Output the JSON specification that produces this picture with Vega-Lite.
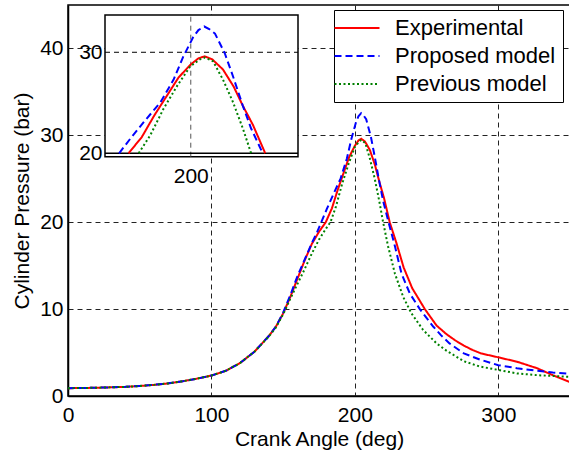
{
  "$schema": "https://vega.github.io/schema/vega-lite/v6.json",
  "autosize": "none",
  "padding": {"left": 68, "top": 5, "right": 0, "bottom": 60},
  "width": 502,
  "height": 391,
  "config": {
    "font": "Liberation Sans",
    "view": {"stroke": "#000", "strokeWidth": 1.5},
    "axis": {
      "labelFont": "Liberation Sans",
      "labelFontSize": 21,
      "labelColor": "#000",
      "titleFont": "Liberation Sans",
      "titleFontSize": 21,
      "titleFontWeight": "normal",
      "titleColor": "#000",
      "domainColor": "#000",
      "domainWidth": 1.5,
      "ticks": false,
      "grid": true,
      "gridColor": "#222",
      "gridDash": [5, 4],
      "gridWidth": 1,
      "labelOverlap": false
    },
    "legend": {
      "labelFont": "Liberation Sans",
      "labelFontSize": 22,
      "labelColor": "#000",
      "labelLimit": 400
    }
  },
  "datasets": {
    "curves": [
      {"a": 0, "p": 0.9, "s": "Experimental"},
      {"a": 10, "p": 0.92, "s": "Experimental"},
      {"a": 20, "p": 0.95, "s": "Experimental"},
      {"a": 30, "p": 1.0, "s": "Experimental"},
      {"a": 40, "p": 1.05, "s": "Experimental"},
      {"a": 50, "p": 1.15, "s": "Experimental"},
      {"a": 60, "p": 1.28, "s": "Experimental"},
      {"a": 70, "p": 1.45, "s": "Experimental"},
      {"a": 80, "p": 1.7, "s": "Experimental"},
      {"a": 90, "p": 2.0, "s": "Experimental"},
      {"a": 100, "p": 2.35, "s": "Experimental"},
      {"a": 110, "p": 2.9, "s": "Experimental"},
      {"a": 120, "p": 3.8, "s": "Experimental"},
      {"a": 130, "p": 5.1, "s": "Experimental"},
      {"a": 140, "p": 6.9, "s": "Experimental"},
      {"a": 145, "p": 8.0, "s": "Experimental"},
      {"a": 150, "p": 9.5, "s": "Experimental"},
      {"a": 155, "p": 11.4, "s": "Experimental"},
      {"a": 160, "p": 13.5, "s": "Experimental"},
      {"a": 165, "p": 15.6, "s": "Experimental"},
      {"a": 170, "p": 17.5, "s": "Experimental"},
      {"a": 175, "p": 18.9, "s": "Experimental"},
      {"a": 179.7, "p": 20.0, "s": "Experimental"},
      {"a": 184, "p": 21.6, "s": "Experimental"},
      {"a": 188, "p": 23.7, "s": "Experimental"},
      {"a": 192, "p": 25.6, "s": "Experimental"},
      {"a": 196, "p": 27.5, "s": "Experimental"},
      {"a": 200, "p": 28.8, "s": "Experimental"},
      {"a": 202.5, "p": 29.4, "s": "Experimental"},
      {"a": 204.5, "p": 29.6, "s": "Experimental"},
      {"a": 207, "p": 29.3, "s": "Experimental"},
      {"a": 210.5, "p": 28.3, "s": "Experimental"},
      {"a": 214, "p": 26.6, "s": "Experimental"},
      {"a": 217, "p": 24.7, "s": "Experimental"},
      {"a": 220.3, "p": 22.8, "s": "Experimental"},
      {"a": 224.3, "p": 20.0, "s": "Experimental"},
      {"a": 229, "p": 17.6, "s": "Experimental"},
      {"a": 234, "p": 14.8, "s": "Experimental"},
      {"a": 240, "p": 12.4, "s": "Experimental"},
      {"a": 248.8, "p": 10.0, "s": "Experimental"},
      {"a": 257, "p": 8.1, "s": "Experimental"},
      {"a": 264, "p": 7.1, "s": "Experimental"},
      {"a": 270, "p": 6.4, "s": "Experimental"},
      {"a": 276, "p": 5.8, "s": "Experimental"},
      {"a": 282, "p": 5.3, "s": "Experimental"},
      {"a": 288, "p": 4.9, "s": "Experimental"},
      {"a": 300, "p": 4.45, "s": "Experimental"},
      {"a": 313, "p": 3.95, "s": "Experimental"},
      {"a": 327, "p": 3.2, "s": "Experimental"},
      {"a": 338, "p": 2.4, "s": "Experimental"},
      {"a": 350, "p": 1.6, "s": "Experimental"},

      {"a": 0, "p": 0.9, "s": "Proposed model"},
      {"a": 10, "p": 0.92, "s": "Proposed model"},
      {"a": 20, "p": 0.95, "s": "Proposed model"},
      {"a": 30, "p": 1.0, "s": "Proposed model"},
      {"a": 40, "p": 1.06, "s": "Proposed model"},
      {"a": 50, "p": 1.16, "s": "Proposed model"},
      {"a": 60, "p": 1.29, "s": "Proposed model"},
      {"a": 70, "p": 1.46, "s": "Proposed model"},
      {"a": 80, "p": 1.7, "s": "Proposed model"},
      {"a": 90, "p": 2.0, "s": "Proposed model"},
      {"a": 100, "p": 2.35, "s": "Proposed model"},
      {"a": 110, "p": 2.9, "s": "Proposed model"},
      {"a": 120, "p": 3.8, "s": "Proposed model"},
      {"a": 130, "p": 5.1, "s": "Proposed model"},
      {"a": 140, "p": 6.9, "s": "Proposed model"},
      {"a": 145, "p": 8.0, "s": "Proposed model"},
      {"a": 150, "p": 9.6, "s": "Proposed model"},
      {"a": 155, "p": 11.6, "s": "Proposed model"},
      {"a": 160, "p": 13.8, "s": "Proposed model"},
      {"a": 165, "p": 15.7, "s": "Proposed model"},
      {"a": 170, "p": 17.6, "s": "Proposed model"},
      {"a": 173.5, "p": 18.8, "s": "Proposed model"},
      {"a": 176.6, "p": 20.0, "s": "Proposed model"},
      {"a": 180.4, "p": 21.5, "s": "Proposed model"},
      {"a": 184.7, "p": 23.1, "s": "Proposed model"},
      {"a": 190.1, "p": 25.05, "s": "Proposed model"},
      {"a": 194.4, "p": 27.3, "s": "Proposed model"},
      {"a": 197.6, "p": 29.6, "s": "Proposed model"},
      {"a": 200.8, "p": 31.5, "s": "Proposed model"},
      {"a": 202.5, "p": 32.2, "s": "Proposed model"},
      {"a": 204.4, "p": 32.55, "s": "Proposed model"},
      {"a": 206, "p": 32.3, "s": "Proposed model"},
      {"a": 207.9, "p": 31.85, "s": "Proposed model"},
      {"a": 211.1, "p": 29.9, "s": "Proposed model"},
      {"a": 213.8, "p": 27.6, "s": "Proposed model"},
      {"a": 217, "p": 24.7, "s": "Proposed model"},
      {"a": 219.7, "p": 22.45, "s": "Proposed model"},
      {"a": 223.5, "p": 20.0, "s": "Proposed model"},
      {"a": 228, "p": 17.2, "s": "Proposed model"},
      {"a": 232.5, "p": 14.1, "s": "Proposed model"},
      {"a": 238.3, "p": 11.8, "s": "Proposed model"},
      {"a": 245.3, "p": 10.0, "s": "Proposed model"},
      {"a": 254.6, "p": 8.0, "s": "Proposed model"},
      {"a": 260, "p": 7.0, "s": "Proposed model"},
      {"a": 266, "p": 6.05, "s": "Proposed model"},
      {"a": 276, "p": 4.9, "s": "Proposed model"},
      {"a": 287, "p": 4.2, "s": "Proposed model"},
      {"a": 300, "p": 3.55, "s": "Proposed model"},
      {"a": 313, "p": 3.2, "s": "Proposed model"},
      {"a": 327, "p": 2.9, "s": "Proposed model"},
      {"a": 338, "p": 2.7, "s": "Proposed model"},
      {"a": 350, "p": 2.55, "s": "Proposed model"},

      {"a": 0, "p": 0.9, "s": "Previous model"},
      {"a": 10, "p": 0.92, "s": "Previous model"},
      {"a": 20, "p": 0.95, "s": "Previous model"},
      {"a": 30, "p": 1.0, "s": "Previous model"},
      {"a": 40, "p": 1.05, "s": "Previous model"},
      {"a": 50, "p": 1.15, "s": "Previous model"},
      {"a": 60, "p": 1.28, "s": "Previous model"},
      {"a": 70, "p": 1.45, "s": "Previous model"},
      {"a": 80, "p": 1.7, "s": "Previous model"},
      {"a": 90, "p": 2.0, "s": "Previous model"},
      {"a": 100, "p": 2.35, "s": "Previous model"},
      {"a": 110, "p": 2.9, "s": "Previous model"},
      {"a": 120, "p": 3.8, "s": "Previous model"},
      {"a": 130, "p": 5.1, "s": "Previous model"},
      {"a": 140, "p": 6.85, "s": "Previous model"},
      {"a": 145, "p": 7.9, "s": "Previous model"},
      {"a": 150, "p": 9.4, "s": "Previous model"},
      {"a": 155, "p": 11.2, "s": "Previous model"},
      {"a": 160, "p": 12.9, "s": "Previous model"},
      {"a": 165, "p": 14.6, "s": "Previous model"},
      {"a": 170, "p": 16.4, "s": "Previous model"},
      {"a": 175, "p": 18.0, "s": "Previous model"},
      {"a": 180, "p": 19.3, "s": "Previous model"},
      {"a": 183, "p": 20.0, "s": "Previous model"},
      {"a": 186.8, "p": 21.8, "s": "Previous model"},
      {"a": 191.1, "p": 24.4, "s": "Previous model"},
      {"a": 195.5, "p": 26.65, "s": "Previous model"},
      {"a": 199.8, "p": 28.6, "s": "Previous model"},
      {"a": 203, "p": 29.3, "s": "Previous model"},
      {"a": 204.6, "p": 29.48, "s": "Previous model"},
      {"a": 207.3, "p": 29.1, "s": "Previous model"},
      {"a": 210.5, "p": 27.3, "s": "Previous model"},
      {"a": 213.8, "p": 25.05, "s": "Previous model"},
      {"a": 217, "p": 22.45, "s": "Previous model"},
      {"a": 219.7, "p": 20.0, "s": "Previous model"},
      {"a": 223.2, "p": 17.2, "s": "Previous model"},
      {"a": 227.9, "p": 14.1, "s": "Previous model"},
      {"a": 233.7, "p": 11.4, "s": "Previous model"},
      {"a": 239.5, "p": 9.5, "s": "Previous model"},
      {"a": 247.6, "p": 7.6, "s": "Previous model"},
      {"a": 257, "p": 6.05, "s": "Previous model"},
      {"a": 264, "p": 5.2, "s": "Previous model"},
      {"a": 270, "p": 4.6, "s": "Previous model"},
      {"a": 276, "p": 4.0, "s": "Previous model"},
      {"a": 287, "p": 3.4, "s": "Previous model"},
      {"a": 300, "p": 3.0, "s": "Previous model"},
      {"a": 313, "p": 2.6, "s": "Previous model"},
      {"a": 327, "p": 2.4, "s": "Previous model"},
      {"a": 338, "p": 2.3, "s": "Previous model"},
      {"a": 350, "p": 2.2, "s": "Previous model"}
    ]
  },
  "layer": [
    {
      "data": {"name": "curves"},
      "mark": {"type": "line", "strokeWidth": 2, "clip": true},
      "encoding": {
        "x": {
          "field": "a", "type": "quantitative",
          "scale": {"domain": [0, 350], "nice": false, "zero": false},
          "axis": {"values": [0, 100, 200, 300], "title": "Crank Angle (deg)", "labelPadding": 8, "titlePadding": 3, "labelFlush": false}
        },
        "y": {
          "field": "p", "type": "quantitative",
          "scale": {"domain": [0, 45], "nice": false},
          "axis": {"values": [0, 10, 20, 30, 40], "title": "Cylinder Pressure (bar)", "labelPadding": 5, "titlePadding": 7}
        },
        "color": {
          "field": "s", "type": "nominal",
          "scale": {"domain": ["Experimental", "Proposed model", "Previous model"], "range": ["#ff0000", "#0000ff", "#008000"]},
          "legend": {
            "title": null, "orient": "none", "legendX": 266, "legendY": 5,
            "symbolType": "M-2.25,0H2.25", "symbolSize": 400, "symbolStrokeWidth": 2, "symbolOffset": 5,
            "strokeColor": "#000", "fillColor": "#fff", "padding": 7, "labelOffset": 27, "rowPadding": 6
          }
        },
        "strokeDash": {
          "field": "s", "type": "nominal",
          "scale": {"domain": ["Experimental", "Proposed model", "Previous model"], "range": [[1, 0], [7, 4], [2, 2.5]]},
          "legend": {
            "title": null, "orient": "none", "legendX": 266, "legendY": 5,
            "symbolType": "M-2.25,0H2.25", "symbolSize": 400, "symbolStrokeWidth": 2, "symbolOffset": 5,
            "strokeColor": "#000", "fillColor": "#fff", "padding": 7, "labelOffset": 27, "rowPadding": 6
          }
        }
      }
    },
    {
      "layer": [
        {
          "data": {"values": [{}]},
          "mark": {"type": "rect", "fill": "#fff", "stroke": "#000", "strokeWidth": 1.5},
          "encoding": {
            "x": {"datum": 172, "type": "quantitative", "scale": {"domain": [172, 235], "range": [37, 230], "nice": false, "zero": false},
              "axis": {"values": [200], "title": null, "orient": "bottom", "offset": -239.3, "labelPadding": 9, "domain": false, "grid": false, "zindex": 1, "labelFlush": false}},
            "x2": {"datum": 235},
            "y": {"datum": 19.66, "type": "quantitative", "scale": {"domain": [19.66, 33.69], "range": [151.7, 10], "nice": false, "zero": false},
              "axis": {"values": [20, 30], "title": null, "orient": "left", "offset": -37, "labelPadding": 3, "domain": false, "grid": false, "zindex": 1}},
            "y2": {"datum": 33.69}
          }
        },
        {
          "data": {"values": [{}]},
          "mark": {"type": "rule", "color": "#555", "strokeDash": [5, 4], "strokeWidth": 1},
          "encoding": {
            "x": {"datum": 200, "type": "quantitative"},
            "y": {"datum": 19.66, "type": "quantitative"},
            "y2": {"datum": 33.69}
          }
        },
        {
          "data": {"values": [{}]},
          "mark": {"type": "rule", "color": "#000", "strokeDash": [5, 4], "strokeWidth": 1},
          "encoding": {
            "y": {"datum": 30, "type": "quantitative"},
            "x": {"datum": 172, "type": "quantitative"},
            "x2": {"datum": 235}
          }
        },
        {
          "data": {"values": [{}]},
          "mark": {"type": "rule", "color": "#000", "strokeWidth": 1.5},
          "encoding": {
            "y": {"datum": 20, "type": "quantitative"},
            "x": {"datum": 172, "type": "quantitative"},
            "x2": {"datum": 235}
          }
        },
        {
          "data": {"name": "curves"},
          "transform": [{"filter": "datum.p >= 20"}],
          "mark": {"type": "line", "strokeWidth": 2},
          "encoding": {
            "x": {"field": "a", "type": "quantitative"},
            "y": {"field": "p", "type": "quantitative"},
            "color": {"field": "s", "type": "nominal", "legend": null},
            "strokeDash": {"field": "s", "type": "nominal", "legend": null}
          }
        }
      ]
    }
  ],
  "resolve": {"scale": {"x": "independent", "y": "independent"}}
}
